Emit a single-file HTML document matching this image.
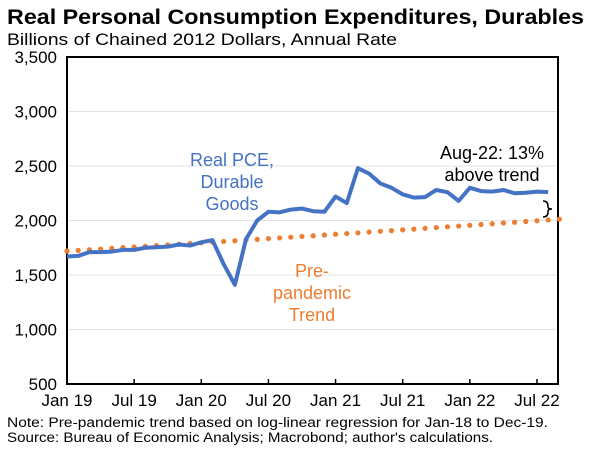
<!DOCTYPE html>
<html><head><meta charset="utf-8"><style>
body{margin:0;background:#fff;font-family:"Liberation Sans",sans-serif}
</style></head><body>
<svg id="c" width="600" height="451" xmlns="http://www.w3.org/2000/svg" font-family="Liberation Sans, sans-serif">
<text x="7" y="24" font-size="21" font-weight="bold" fill="#000" textLength="577" lengthAdjust="spacingAndGlyphs">Real Personal Consumption Expenditures, Durables</text>
<text x="7" y="45" font-size="16.5" fill="#000" textLength="390" lengthAdjust="spacingAndGlyphs">Billions of Chained 2012 Dollars, Annual Rate</text>
<g id="grid"></g>
<rect x="67" y="57" width="491" height="327" fill="none" stroke="#000" stroke-width="2"/>
<g id="marks"></g>
<text x="232" y="166" font-size="18" fill="#4472c4" text-anchor="middle"><tspan x="232">Real PCE,</tspan><tspan x="232" dy="22">Durable</tspan><tspan x="232" dy="22">Goods</tspan></text>
<text x="312" y="277" font-size="18" fill="#ed7d31" text-anchor="middle"><tspan x="312">Pre-</tspan><tspan x="312" dy="22">pandemic</tspan><tspan x="312" dy="22">Trend</tspan></text>
<text x="492" y="159" font-size="18" fill="#000" text-anchor="middle"><tspan x="492">Aug-22: 13%</tspan><tspan x="492" dy="22">above trend</tspan></text>
<path d="M543,201 q5,0 5,5 v1 q0,2 4,2 q-4,0 -4,2 v1 q0,5 -5,5" fill="none" stroke="#000" stroke-width="1.5"/>
<text x="7" y="427" font-size="13.5" fill="#000" textLength="541" lengthAdjust="spacingAndGlyphs">Note: Pre-pandemic trend based on log-linear regression for Jan-18 to Dec-19.</text>
<text x="7" y="442" font-size="13.5" fill="#000" textLength="486" lengthAdjust="spacingAndGlyphs">Source: Bureau of Economic Analysis; Macrobond; author's calculations.</text>
</svg>
<script>
const yTicks=[500,1000,1500,2000,2500,3000,3500];
const yTickLabels=["500","1,000","1,500","2,000","2,500","3,000","3,500"];
const xTickMonths=[0,6,12,18,24,30,36,42];
const xTickLabels=["Jan 19","Jul 19","Jan 20","Jul 20","Jan 21","Jul 21","Jan 22","Jul 22"];
const pce=[1670,1675,1710,1710,1715,1730,1730,1750,1755,1760,1780,1770,
1800,1820,1600,1410,1830,2000,2080,2075,2100,2110,2085,2080,
2220,2160,2480,2430,2340,2300,2240,2210,2215,2280,2260,2180,
2300,2270,2265,2280,2250,2255,2265,2260];
const trend=[1720,1726,1732,1738,1745,1751,1757,1763,1770,1776,1782,1789,1795,1802,1808,1814,1821,1827,1834,1840,1847,1854,1860,1867,1874,1880,1887,1894,1901,1907,1914,1921,1928,1935,1942,1949,1956,1963,1970,1977,1984,1991,1998,2005,2012];
const NS="http://www.w3.org/2000/svg";
const x=m=>67+m*11.19;
const y=v=>384-(v-500)*(327/3000);
const grid=document.getElementById('grid'),marks=document.getElementById('marks');
function mk(t,a,p){const e=document.createElementNS(NS,t);for(const k in a)e.setAttribute(k,a[k]);p.appendChild(e);return e;}
yTicks.forEach((v,i)=>{
 if(i>0&&i<yTicks.length-1){const l=mk('line',{x1:67,x2:557,y1:y(v),y2:y(v),stroke:'#e3e3e3','stroke-width':1},grid);
 
 }
 const t=mk('text',{x:57,y:y(v)+6,'font-size':17,'text-anchor':'end',fill:'#000'},grid);
 t.textContent=yTickLabels[i];
 
 
});
xTickMonths.forEach((m,i)=>{
 const tk=mk('line',{x1:x(m),x2:x(m),y1:379,y2:384,stroke:'#000','stroke-width':1.5},grid);
 
 
 const t=mk('text',{x:x(m),y:406,'font-size':17,'text-anchor':'middle',fill:'#000'},grid);
 t.textContent=xTickLabels[i];
 
 
});
trend.forEach((v,i)=>{
 const c=mk('circle',{cx:x(i),cy:y(v),r:2.6,fill:'#ed7d31'},marks);
 
 
});
const line=mk('polyline',{points:pce.map((v,i)=>x(i)+','+y(v)).join(' '),fill:'none',stroke:'#4472c4','stroke-width':4,'stroke-linejoin':'round'},marks);


</script>
</body></html>
